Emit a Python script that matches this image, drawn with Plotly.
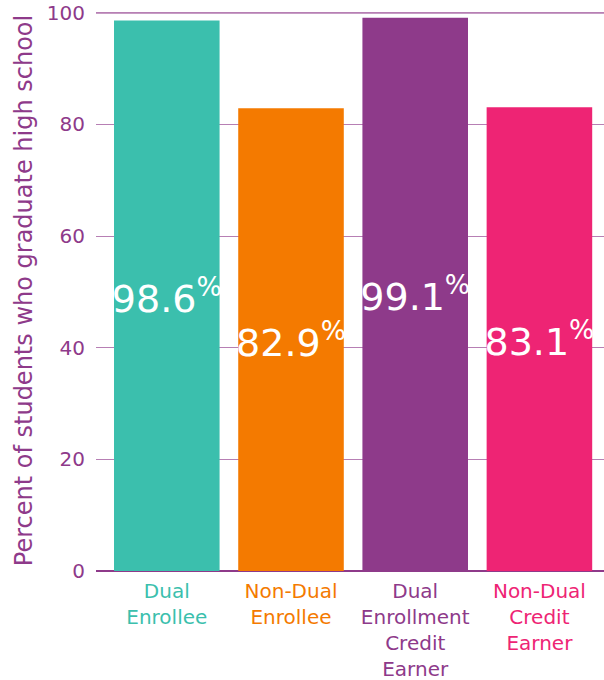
import plotly.graph_objects as go

categories = ["Dual<br>Enrollee", "Non-Dual<br>Enrollee", "Dual<br>Enrollment<br>Credit<br>Earner", "Non-Dual<br>Credit<br>Earner"]
values = [98.6, 82.9, 99.1, 83.1]
colors = ["#3bbfad", "#f47a00", "#8e3a8a", "#ee2474"]
y_ticks = [0, 20, 40, 60, 80, 100]

purple = "#8e3a8a"
font_family = "DejaVu Sans, sans-serif"

ticktext = [f"<span style='color:{c}'>{t}</span>" for t, c in zip(categories, colors)]

fig = go.Figure(go.Bar(
    x=list(range(len(values))),
    y=values,
    marker=dict(color=colors, line=dict(width=0)),
    text=[f"{v:.1f}<sup>%</sup>" for v in values],
    textposition="inside",
    insidetextanchor="middle",
    textangle=0,
    constraintext="none",
    textfont=dict(color="white", size=38, family=font_family),
    width=0.85,
))

# darker top gridline as in the reference
fig.add_shape(type="line", xref="paper", yref="y", x0=0, x1=1,
              y0=y_ticks[-1], y1=y_ticks[-1], layer="below",
              line=dict(color=purple, width=1.5))

fig.update_layout(
    width=604, height=680,
    margin=dict(l=96, r=0, t=10, b=109, autoexpand=False),
    plot_bgcolor="white", paper_bgcolor="white",
    showlegend=False,
    font=dict(family=font_family, color=purple),
    xaxis=dict(
        automargin=False,
        tickmode="array",
        tickvals=list(range(len(values))),
        ticktext=ticktext,
        tickfont=dict(size=20),
        range=[-0.57, 3.52],
        showgrid=False,
        ticks="",
        showline=False,
        ticklabelstandoff=6,
    ),
    yaxis=dict(
        automargin=False,
        range=[0, 100.5],
        tickvals=y_ticks,
        tickfont=dict(size=20, color=purple),
        showgrid=True,
        gridcolor="#b77fb4",
        gridwidth=1,
        zeroline=True,
        zerolinecolor=purple,
        zerolinewidth=2,
        ticks="",
        ticklabelstandoff=10,
        title=dict(text="Percent of students who graduate high school",
                   font=dict(size=24, color=purple), standoff=7),
    ),
)

fig.write_html("out.html", config={"displayModeBar": False},
               post_script="document.body.style.margin='0';")
